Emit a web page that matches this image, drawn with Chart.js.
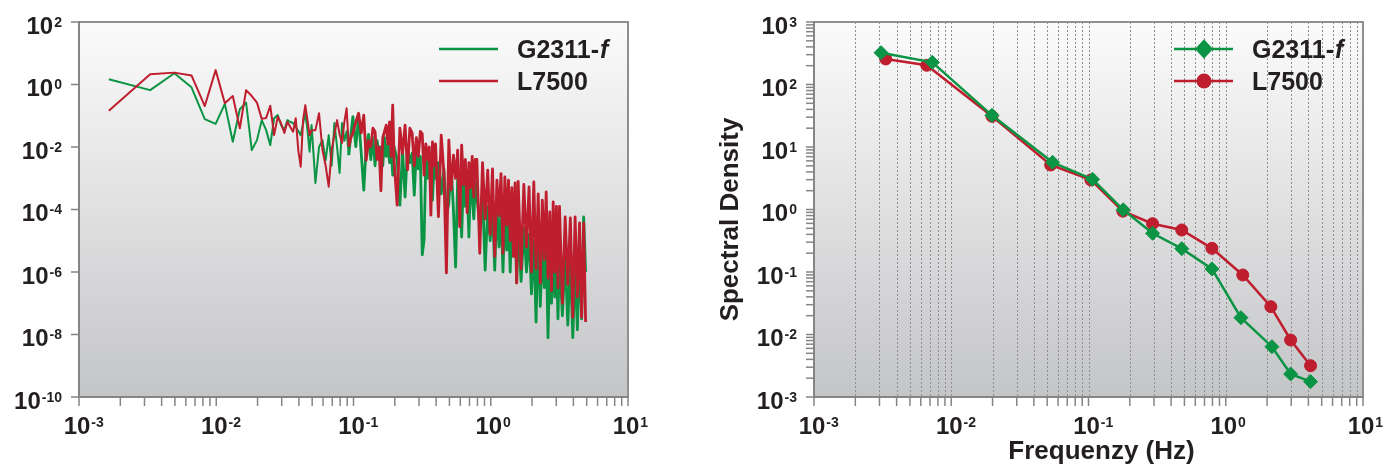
<!DOCTYPE html>
<html>
<head>
<meta charset="utf-8">
<script src="https://cdn.jsdelivr.net/npm/chart.js@4.4.1/dist/chart.umd.min.js"></script>
<style>
  html, body { margin: 0; padding: 0; background: #fff; }
  #wrap { position: relative; width: 1386px; height: 464px; }
  .box { position: absolute; top: 0; width: 693px; height: 464px; }
</style>
</head>
<body>
<div id="wrap">
  <div class="box" style="left:0"><canvas id="raw" width="693" height="464"></canvas></div>
  <div class="box" style="left:693px"><canvas id="binned" width="693" height="464"></canvas></div>
</div>
<script>
"use strict";

/* ---------- raw spectra (left panel) ---------- */
// frequency resolution of the raw spectra, Hz
const DF = 0.00165;

const rawBins = [
  1, 2, 3, 4, 5, 6, 7, 8, 9, 10, 11, 12, 13, 14, 15, 16, 17, 18, 19, 20, 21, 22, 23, 24, 25, 26, 27, 28, 29, 30,
  32, 34, 36, 38, 40, 42, 44, 46, 48, 50, 52, 54, 56, 58,
  60, 63, 66, 69, 72, 75, 78, 81, 84, 87, 90, 93, 96, 99, 102, 105, 108, 111, 114, 117,
  120, 126, 132, 138, 144, 150, 156, 162, 168, 174, 180, 186, 192, 198, 204, 210, 216, 222, 228, 234,
  240, 252, 264, 276, 288, 300, 312, 324, 336, 348, 360, 372, 384, 396, 408, 420, 432, 444, 456, 468,
  480, 504, 528, 552, 576, 600, 624, 648, 672, 696, 720, 744, 768, 792, 816, 840, 864, 888, 912, 936,
  960, 1008, 1056, 1104, 1152, 1200, 1248, 1296, 1344, 1392, 1440, 1488, 1536, 1584, 1632, 1680, 1728, 1776, 1824, 1872,
  1920, 2016, 2112, 2208, 2304, 2400, 2496, 2592, 2688, 2784, 2880, 2976
];

// log10 of spectral density, G2311-f
const rawG2311 = [
  0.17, -0.18, 0.36, -0.09, -1.11, -1.26, -0.62, -1.83, -0.79, -0.58, -2.10, -1.78, -1.14, -1.46, -1.94,
  -1.08, -0.98, -1.30, -1.46, -1.14, -1.20, -1.23, -1.36, -1.49, -1.62, -1.26, -0.91, -1.46, -2.15, -1.30,
  -3.15, -2.0, -1.78, -2.42, -1.62, -2.6, -1.23, -2.0, -2.83, -1.23, -1.8, -1.5, -2.26, -1.6,
  -1.03, -1.99, -1.03, -2.2, -3.38, -2.0, -1.6, -2.4, -1.7, -2.6, -1.8, -2.2, -2.0, -2.6, -1.7, -2.3, -1.9, -2.5, -2.0, -2.9,
  -2.0, -2.4, -3.86, -2.1, -3.6, -2.0, -2.5, -2.2, -3.54, -2.1, -2.7, -2.3, -5.45, -4.98, -2.4, -3.0, -2.3, -2.8, -3.7, -2.5,
  -3.0, -2.5, -3.5, -2.7, -4.2, -3.8, -2.6, -4.0, -5.84, -3.0, -3.4, -4.88, -2.8, -3.9, -3.2, -4.88, -3.0, -3.6, -4.3, -3.1,
  -3.6, -4.5, -3.5, -5.94, -3.9, -5.0, -4.0, -5.94, -3.8, -5.2, -4.1, -6.0, -4.0, -5.3, -4.2, -6.0, -4.3, -5.5, -4.4, -6.35,
  -4.5, -6.3, -4.6, -6.0, -4.8, -6.7, -5.0, -7.6, -4.8, -7.1, -5.2, -6.5, -5.0, -8.1, -5.4, -7.0, -5.2, -6.8, -5.5, -7.5,
  -5.4, -7.4, -5.5, -7.7, -5.6, -8.1, -5.8, -7.85, -5.5, -7.5, -4.24, -6.0
];

// log10 of spectral density, L7500
const rawL7500 = [
  -0.84, 0.33, 0.38, 0.29, -0.69, 0.46, -0.60, -0.37, -1.40, -0.18, -0.37, -0.58, -1.10, -1.07, -0.68,
  -1.62, -1.03, -1.25, -1.55, -1.19, -1.36, -1.51, -1.08, -2.1, -2.63, -1.14, -0.66, -1.14, -1.62, -1.46,
  -1.46, -0.92, -2.1, -2.6, -3.27, -2.1, -1.6, -1.14, -1.6, -1.87, -1.2, -0.76, -1.99, -1.7,
  -1.55, -1.2, -0.92, -1.55, -0.98, -2.42, -1.8, -1.99, -1.4, -1.51, -2.4, -2.0, -3.4, -1.71, -1.5, -1.3, -1.9, -1.2, -2.3, -0.66,
  -2.5, -3.86, -1.4, -2.2, -1.3, -2.73, -1.4, -1.55, -2.6, -1.7, -2.3, -1.5, -1.58, -2.9, -1.9, -2.4, -2.0, -4.18, -1.84, -2.6,
  -1.9, -4.23, -1.62, -2.8, -6.03, -1.78, -3.37, -2.26, -3.0, -2.1, -4.55, -1.94, -3.2, -2.4, -4.1, -2.5, -3.3, -2.3, -3.6, -2.4,
  -2.4, -5.4, -2.5, -4.3, -2.74, -4.8, -2.7, -5.5, -3.06, -4.2, -2.85, -5.4, -2.96, -4.5, -3.06, -5.0, -3.3, -5.5, -3.15, -6.35,
  -3.1, -5.9, -3.2, -5.2, -3.28, -6.0, -3.12, -5.9, -3.5, -6.35, -3.7, -5.6, -3.44, -6.2, -4.08, -6.6, -3.76, -6.0, -3.9, -6.5,
  -3.9, -7.0, -4.24, -6.4, -4.27, -7.45, -4.24, -6.8, -4.43, -7.45, -4.43, -7.6
];

/* ---------- binned spectra (right panel) ---------- */
const binFreqG2311 = [0.00308, 0.00728, 0.0198, 0.0547, 0.107, 0.179, 0.293, 0.478, 0.793, 1.29, 2.17, 2.97, 4.15];
const binG2311 = [323, 226, 32.1, 5.69, 3.04, 0.99, 0.416, 0.236, 0.112, 0.0186, 0.00638, 0.00233, 0.00176];
const binFreqL7500 = [0.00333, 0.00663, 0.0198, 0.053, 0.104, 0.178, 0.293, 0.478, 0.793, 1.33, 2.13, 2.97, 4.15];
const binL7500 = [256, 203, 31, 5.15, 2.97, 0.94, 0.593, 0.47, 0.239, 0.0895, 0.0279, 0.00817, 0.00317];

/* ---------- tick labels (exponents of ten) ---------- */
const xTickExps = [-3, -2, -1, 0, 1];
const rawYTickExps = [2, 0, -2, -4, -6, -8, -10];
const binYTickExps = [3, 2, 1, 0, -1, -2, -3];

/* ---------- styles ---------- */
const GREEN = '#0b9444';
const RED = '#be1e2d';
const INK = '#231f20';
const AXIS = '#858585';
const FONT = '"Liberation Sans", Arial, sans-serif';

function decadeValues(min, max) {
  const out = [];
  for (let e = Math.floor(Math.log10(min)); e <= Math.ceil(Math.log10(max)); e++) {
    for (let m = 1; m <= 9; m++) {
      const v = m * Math.pow(10, e);
      if (v >= min * 0.9999 && v <= max * 1.0001) out.push(v);
    }
  }
  return out;
}

function line(ctx, x1, y1, x2, y2) {
  ctx.beginPath();
  ctx.moveTo(x1, y1);
  ctx.lineTo(x2, y2);
  ctx.stroke();
}

// "10" with a raised exponent; cy is the vertical middle of "10"
function pow10Label(ctx, exp, x, cy, align) {
  ctx.font = 'bold 24px ' + FONT;
  const wb = ctx.measureText('10').width;
  ctx.font = 'bold 14px ' + FONT;
  const ws = ctx.measureText(String(exp)).width;
  const left = align === 'right' ? x - wb - ws - 1 : x - wb / 2 - 2;
  ctx.fillStyle = INK;
  ctx.textAlign = 'left';
  ctx.textBaseline = 'alphabetic';
  ctx.font = 'bold 24px ' + FONT;
  ctx.fillText('10', left, cy + 8.5);
  ctx.font = 'bold 14px ' + FONT;
  ctx.fillText(String(exp), left + wb + 1, cy + 1.5);
}

function drawMarker(ctx, kind, x, y, r, color) {
  ctx.fillStyle = color;
  ctx.beginPath();
  if (kind === 'diamond') {
    ctx.moveTo(x - r, y);
    ctx.lineTo(x, y - r * 1.08);
    ctx.lineTo(x + r, y);
    ctx.lineTo(x, y + r * 1.08);
    ctx.closePath();
  } else {
    ctx.arc(x, y, r, 0, Math.PI * 2);
  }
  ctx.fill();
}

/**----------------------------------------------------------------------
 * [Plot frame: gradient background, grid, axes, ticks, labels, legend]
 *--------------------------------------------------------------*/
const framePlugin = {
  id: 'frame',
  beforeDatasetsDraw(chart, args, opts) {
    const {ctx, chartArea: a, scales: {x}} = chart;
    ctx.save();
    const g = ctx.createLinearGradient(0, a.top, 0, a.bottom);
    g.addColorStop(0, '#fbfbfb');
    g.addColorStop(1, '#c4c5c7');
    ctx.fillStyle = g;
    ctx.fillRect(a.left, a.top, a.width, a.height);

    if (opts.xGrid) {
      ctx.strokeStyle = '#8f8f8f';
      ctx.lineWidth = 1;
      ctx.setLineDash([2, 2]);
      decadeValues(x.min, x.max).forEach(v => {
        const px = Math.round(x.getPixelForValue(v)) + 0.5;
        if (px <= a.left + 2 || px >= a.right - 2) return;
        line(ctx, px, a.top, px, a.bottom);
      });
      ctx.setLineDash([]);
    }
    ctx.restore();
  },
  afterDatasetsDraw(chart, args, opts) {
    const {ctx, chartArea: a, scales: {x, y}} = chart;
    ctx.save();

    // frame
    ctx.strokeStyle = '#8f8f8f';
    ctx.lineWidth = 2;
    ctx.strokeRect(a.left, a.top, a.width, a.height);
    ctx.strokeStyle = AXIS;
    line(ctx, a.left, a.top - 1, a.left, a.bottom + 1);
    line(ctx, a.left - 1, a.bottom, a.right + 1, a.bottom);

    // ticks
    ctx.lineWidth = 1.5;
    decadeValues(x.min, x.max).forEach(v => {
      const px = x.getPixelForValue(v);
      line(ctx, px, a.bottom, px, a.bottom + 9);
    });
    const yTicks = opts.yMinor ? decadeValues(y.min, y.max) : opts.yExps.map(e => Math.pow(10, e));
    yTicks.forEach(v => {
      const py = y.getPixelForValue(v);
      line(ctx, a.left - 8, py, a.left, py);
    });

    // tick labels
    xTickExps.forEach(e => pow10Label(ctx, e, x.getPixelForValue(Math.pow(10, e)), a.bottom + 28, 'center'));
    opts.yExps.forEach(e => pow10Label(ctx, e, a.left - 17, y.getPixelForValue(Math.pow(10, e)) + 3, 'right'));

    // legend
    opts.legend.forEach((item, i) => {
      const ly = a.top + 27 + i * 32;
      const lx = a.right - 189;
      ctx.strokeStyle = item.color;
      ctx.lineWidth = 2.5;
      line(ctx, lx, ly, lx + 59, ly);
      if (item.marker) drawMarker(ctx, item.marker, lx + 30, ly, item.marker === 'diamond' ? 9 : 7.5, item.color);
      ctx.fillStyle = INK;
      ctx.textAlign = 'left';
      ctx.textBaseline = 'alphabetic';
      ctx.font = 'bold 25px ' + FONT;
      ctx.fillText(item.label, a.right - 111, ly + 9);
      if (item.italic) {
        const w = ctx.measureText(item.label).width;
        ctx.font = 'italic bold 25px ' + FONT;
        ctx.fillText(item.italic, a.right - 111 + w + 1, ly + 9);
      }
    });

    // axis titles
    if (opts.titles) {
      ctx.fillStyle = INK;
      ctx.font = 'bold 26px ' + FONT;
      ctx.textAlign = 'center';
      ctx.textBaseline = 'alphabetic';
      ctx.fillText(opts.titles.x, (a.left + a.right) / 2 + 13, a.bottom + 62);
      ctx.translate(a.left - 76, (a.top + a.bottom) / 2 + 10);
      ctx.rotate(-Math.PI / 2);
      ctx.fillText(opts.titles.y, 0, 0);
    }
    ctx.restore();
  }
};

function toPoints(xs, ys) {
  return xs.map((v, i) => ({x: v, y: ys[i]}));
}

// the dense high-frequency part of the raw spectra is drawn a bit heavier
function rawSegmentWidth(ctx) {
  return ctx.p0.parsed.x > 0.09 ? 2.8 : 2;
}

const legendItems = [
  {label: 'G2311-', italic: 'f', color: GREEN, marker: null},
  {label: 'L7500', color: RED, marker: null}
];

/**----------------------------------------------------------------------
 * [Left panel: raw spectra]
 *--------------------------------------------------------------*/
new Chart(document.getElementById('raw'), {
  type: 'line',
  data: {
    datasets: [
      {
        label: 'L7500',
        data: toPoints(rawBins.map(k => k * DF), rawL7500.map(v => Math.pow(10, v))),
        borderColor: RED,
        segment: {borderWidth: rawSegmentWidth},
        order: 0
      },
      {
        label: 'G2311-f',
        data: toPoints(rawBins.map(k => k * DF), rawG2311.map(v => Math.pow(10, v))),
        borderColor: GREEN,
        segment: {borderWidth: rawSegmentWidth},
        order: 1
      }
    ]
  },
  options: {
    responsive: false,
    animation: false,
    layout: {padding: {left: 79, right: 65, top: 22, bottom: 67}},
    elements: {
      point: {radius: 0},
      line: {borderWidth: 2, tension: 0, borderJoinStyle: 'round', fill: false}
    },
    scales: {
      x: {type: 'logarithmic', min: 1e-3, max: 10, display: false},
      y: {type: 'logarithmic', min: 1e-10, max: 100, display: false}
    },
    plugins: {
      legend: {display: false},
      tooltip: {enabled: false},
      frame: {yExps: rawYTickExps, yMinor: false, xGrid: false, legend: legendItems}
    }
  },
  plugins: [framePlugin]
});

/**----------------------------------------------------------------------
 * [Right panel: binned spectra]
 *--------------------------------------------------------------*/
new Chart(document.getElementById('binned'), {
  type: 'line',
  data: {
    datasets: [
      {
        label: 'G2311-f',
        data: toPoints(binFreqG2311, binG2311),
        borderColor: GREEN,
        backgroundColor: GREEN,
        pointStyle: 'rectRot',
        pointRadius: 7,
        order: 0
      },
      {
        label: 'L7500',
        data: toPoints(binFreqL7500, binL7500),
        borderColor: RED,
        backgroundColor: RED,
        pointStyle: 'circle',
        pointRadius: 6,
        order: 1
      }
    ]
  },
  options: {
    responsive: false,
    animation: false,
    layout: {padding: {left: 121, right: 23, top: 22, bottom: 67}},
    elements: {
      point: {borderWidth: 1},
      line: {borderWidth: 2.5, tension: 0, fill: false}
    },
    scales: {
      x: {type: 'logarithmic', min: 1e-3, max: 10, display: false},
      y: {type: 'logarithmic', min: 1e-3, max: 1000, display: false}
    },
    plugins: {
      legend: {display: false},
      tooltip: {enabled: false},
      frame: {
        yExps: binYTickExps,
        yMinor: true,
        xGrid: true,
        legend: [
          {label: 'G2311-', italic: 'f', color: GREEN, marker: 'diamond'},
          {label: 'L7500', color: RED, marker: 'circle'}
        ],
        titles: {x: 'Frequenzy (Hz)', y: 'Spectral Density'}
      }
    }
  },
  plugins: [framePlugin]
});
</script>
</body>
</html>
